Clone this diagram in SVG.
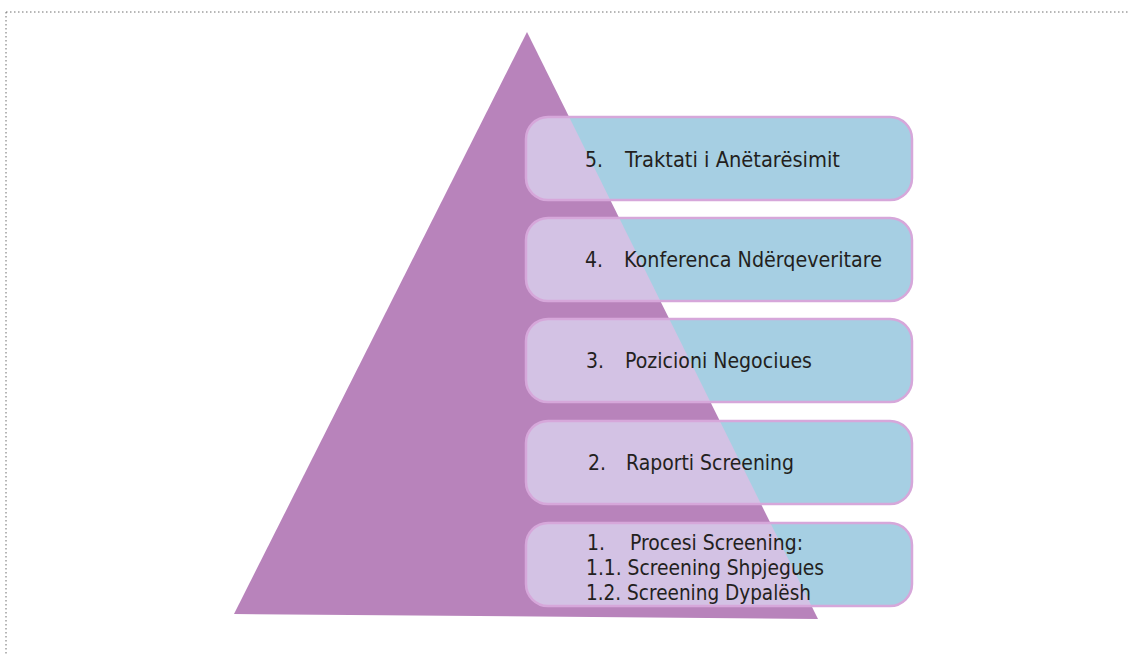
<svg xmlns="http://www.w3.org/2000/svg" width="1128" height="654" viewBox="0 0 1128 654">
<style>
.border{fill:none;stroke:#6e6e6e;stroke-width:1;stroke-dasharray:1.5 2.5}
.tri{fill:#b883bb}
.box{fill:#a6cfe3}
.boxin{fill:#d3c2e4}
.edge{fill:none;stroke:#d6a7da;stroke-width:2.5}
.t{font-family:"DejaVu Sans","Liberation Sans",sans-serif;font-size:20.5px;fill:#231f20}
</style>
<defs>
<clipPath id="triClip"><polygon points="527,32 234,614 818,619"/></clipPath>
</defs>
<g id="frame">
<line class="border" x1="6" y1="12" x2="1128" y2="12"/>
<line class="border" x1="6" y1="12" x2="6" y2="654"/>
</g>
<g id="pyramid"><polygon class="tri" points="527,32 234,614 818,619"/></g>
<g id="step5">
<rect class="box" x="526" y="117" width="386" height="83" rx="22"/>
<rect class="boxin" x="526" y="117" width="386" height="83" rx="22" clip-path="url(#triClip)"/>
<rect class="edge" x="526" y="117" width="386" height="83" rx="22"/>
<text class="t" x="585" y="167" textLength="18" lengthAdjust="spacingAndGlyphs">5.</text>
<text class="t" x="625" y="167" textLength="215" lengthAdjust="spacingAndGlyphs">Traktati i Anëtarësimit</text>
</g>
<g id="step4">
<rect class="box" x="526" y="218" width="386" height="83" rx="22"/>
<rect class="boxin" x="526" y="218" width="386" height="83" rx="22" clip-path="url(#triClip)"/>
<rect class="edge" x="526" y="218" width="386" height="83" rx="22"/>
<text class="t" x="585" y="267" textLength="18" lengthAdjust="spacingAndGlyphs">4.</text>
<text class="t" x="624" y="267" textLength="258" lengthAdjust="spacingAndGlyphs">Konferenca Ndërqeveritare</text>
</g>
<g id="step3">
<rect class="box" x="526" y="319" width="386" height="83" rx="22"/>
<rect class="boxin" x="526" y="319" width="386" height="83" rx="22" clip-path="url(#triClip)"/>
<rect class="edge" x="526" y="319" width="386" height="83" rx="22"/>
<text class="t" x="586" y="368" textLength="18" lengthAdjust="spacingAndGlyphs">3.</text>
<text class="t" x="625" y="368" textLength="187" lengthAdjust="spacingAndGlyphs">Pozicioni Negociues</text>
</g>
<g id="step2">
<rect class="box" x="526" y="421" width="386" height="83" rx="22"/>
<rect class="boxin" x="526" y="421" width="386" height="83" rx="22" clip-path="url(#triClip)"/>
<rect class="edge" x="526" y="421" width="386" height="83" rx="22"/>
<text class="t" x="588" y="470" textLength="18" lengthAdjust="spacingAndGlyphs">2.</text>
<text class="t" x="626" y="470" textLength="168" lengthAdjust="spacingAndGlyphs">Raporti Screening</text>
</g>
<g id="step1">
<rect class="box" x="526" y="523" width="386" height="83" rx="22"/>
<rect class="boxin" x="526" y="523" width="386" height="83" rx="22" clip-path="url(#triClip)"/>
<rect class="edge" x="526" y="523" width="386" height="83" rx="22"/>
<text class="t" x="587" y="550" textLength="18" lengthAdjust="spacingAndGlyphs">1.</text>
<text class="t" x="630" y="550" textLength="173" lengthAdjust="spacingAndGlyphs">Procesi Screening:</text>
<text class="t" x="586" y="575" textLength="238" lengthAdjust="spacingAndGlyphs">1.1. Screening Shpjegues</text>
<text class="t" x="586" y="600" textLength="225" lengthAdjust="spacingAndGlyphs">1.2. Screening Dypalësh</text>
</g>
</svg>
